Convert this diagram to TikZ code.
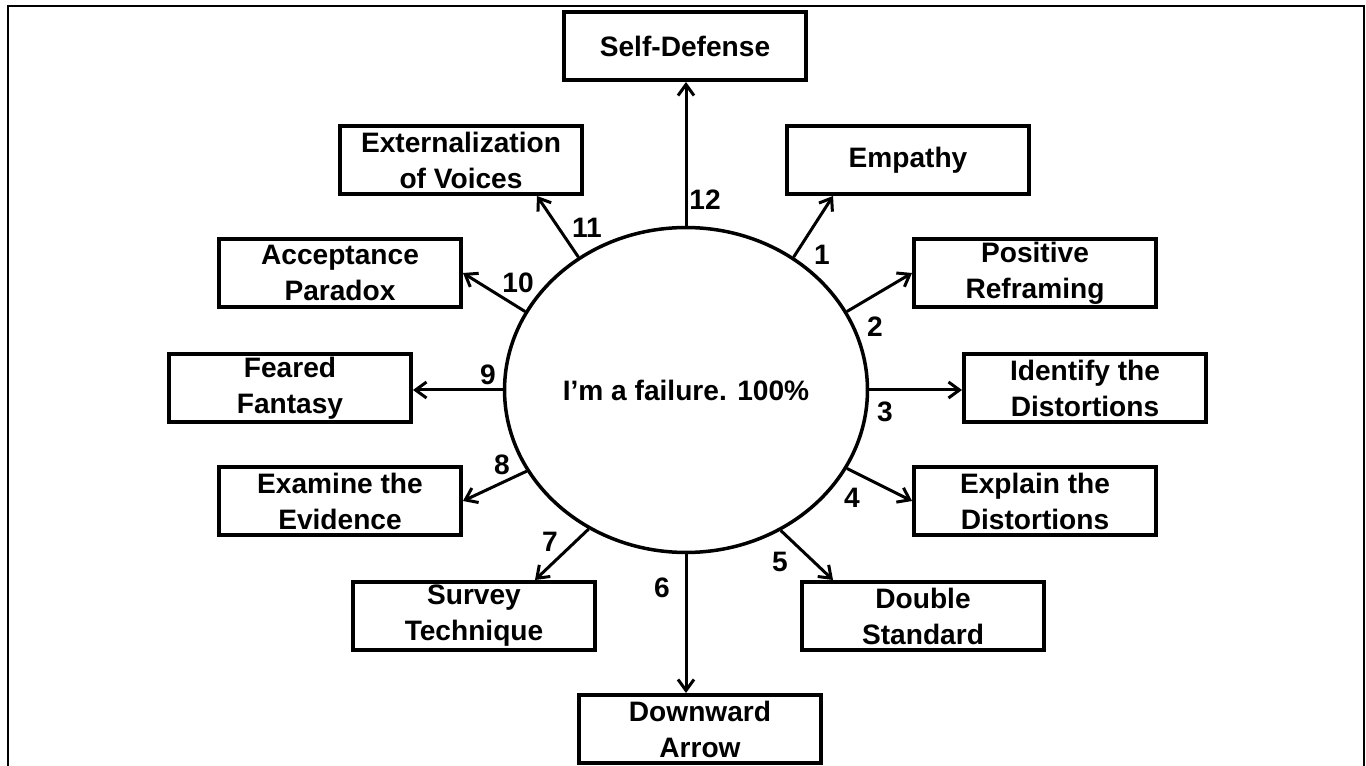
\documentclass[tikz,border=0pt]{standalone}
\usepackage{fontspec}
\setmainfont{Liberation Sans}
\usetikzlibrary{arrows.meta,shapes.geometric,calc}
\def\bfs{\bfseries\fontsize{16}{20.5}\selectfont}

\begin{document}
\begin{tikzpicture}[x=0.02cm,y=-0.02cm,
tech/.style={draw,line width=0.08cm,minimum width=4.84cm,minimum height=1.36cm,inner sep=0pt,align=center,font=\bfs},
belief/.style={ellipse,draw,line width=0.07cm,minimum width=7.26cm,minimum height=6.5cm,inner sep=0pt,font=\bfs},
num/.style={inner sep=1pt,font=\bfs},
link/.style={line width=0.06cm,-{Straight Barb[length=0.22cm,width=0.32cm]}}]
\useasboundingbox (0,0) rectangle (1366,766);
\draw[line width=0.05cm] (8,770) -- (8,6) -- (1364,6) -- (1364,770);
\node[belief] (core) at (686,390) {I’m a failure. 100\%};
\node[tech] (defense) at (685,46) {Self-Defense};
\node[tech] (voices) at (461,160) {Externalization\\of Voices};
\node[tech] (empathy) at (908,160) {Empathy};
\node[tech] (accept) at (340,273) {Acceptance\\Paradox};
\node[tech] (reframe) at (1035,273) {Positive\\Reframing};
\node[tech] (feared) at (290,388) {Feared\\Fantasy};
\node[tech] (identify) at (1085,388) {Identify the\\Distortions};
\node[tech] (examine) at (340,501) {Examine the\\Evidence};
\node[tech] (explain) at (1035,501) {Explain the\\Distortions};
\node[tech] (survey) at (474,616) {Survey\\Technique};
\node[tech] (double) at (923,616) {Double\\Standard};
\node[tech] (downward) at (700,729) {Downward\\Arrow};
%numbers
\node[num] (n1) at (822,255) {1};
\node[num] (n2) at (875,327) {2};
\node[num] (n3) at (885,412) {3};
\node[num] (n4) at (852,498) {4};
\node[num] (n5) at (780,562) {5};
\node[num] (n6) at (662,588) {6};
\node[num] (n7) at (550,542) {7};
\node[num] (n8) at (502,465) {8};
\node[num] (n9) at (488,375) {9};
\node[num] (n10) at (518,283) {10};
\node[num] (n11) at (587,228) {11};
\node[num] (n12) at (705,200) {12};
\draw[link] (core.51.6) -- ([xshift=0.96cm]empathy.south west);
\draw[link] (core.26) -- (reframe.west);
\draw[link] (core.east) -- (core.east -| identify.west);
\draw[link] (core.-26) -- (explain.west);
\draw[link] (core.-56.5) -- ([xshift=0.66cm]double.north west);
\draw[link] (core.south) -- (core.south |- downward.north);
\draw[link] (core.-125) -- ([xshift=-1.24cm]survey.north east);
\draw[link] (core.207) -- (examine.east);
\draw[link] (core.west) -- (core.west -| feared.east);
\draw[link] (core.154) -- (accept.east);
\draw[link] (core.129) -- ([xshift=-0.94cm]voices.south east);
\draw[link] (core.north) -- (core.north |- defense.south);
\end{tikzpicture}
\end{document}
